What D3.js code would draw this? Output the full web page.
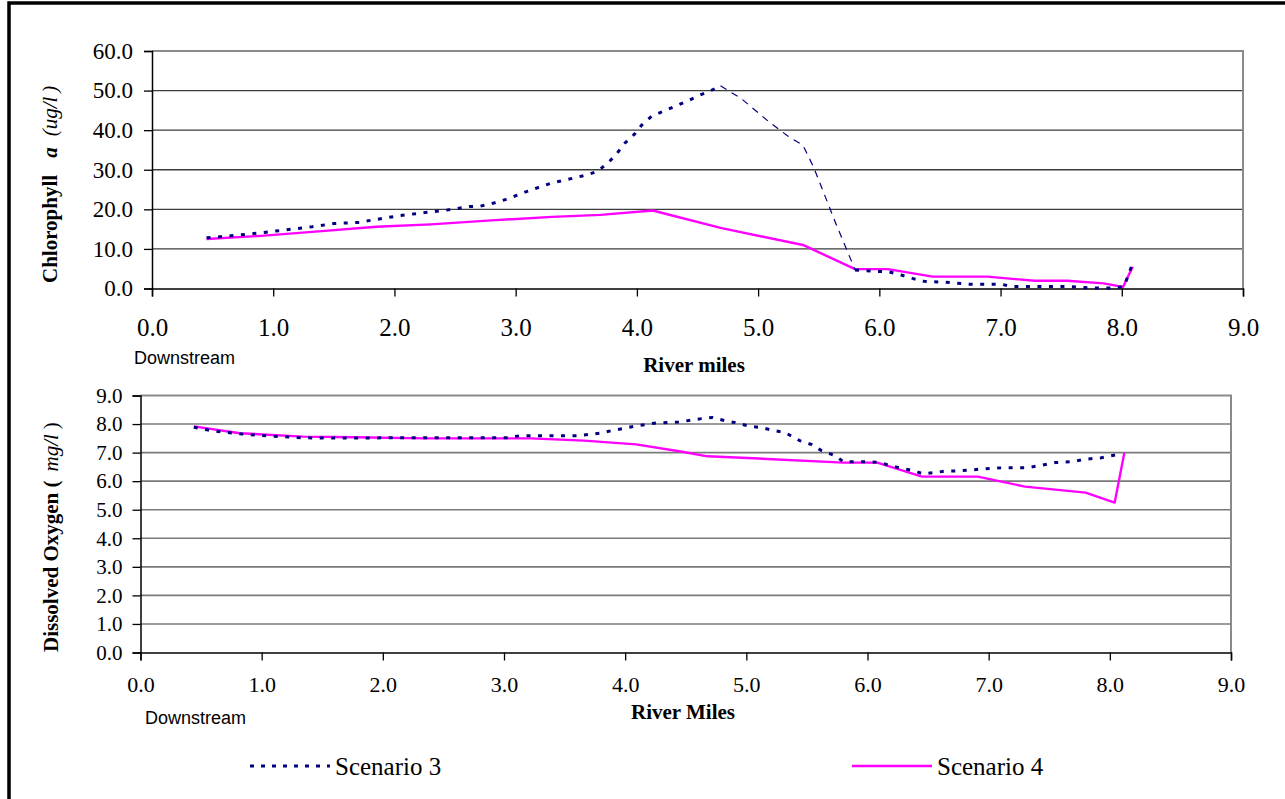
<!DOCTYPE html>
<html>
<head>
<meta charset="utf-8">
<script src="https://cdn.jsdelivr.net/npm/d3@7"></script>
<style>
  body { margin: 0; background: #fff; }
  svg text { font-family: "Liberation Serif", "Times New Roman", serif; fill: #000; }
  .sans { font-family: "Liberation Sans", Arial, sans-serif !important; }
</style>
</head>
<body>
<div id="chart"></div>
<script>
// river miles and values
let chlaMiles3 = [0.45, 0.65, 0.84, 1.02, 1.32, 1.5, 1.71, 1.82, 2.04, 2.23, 2.43, 2.62, 2.71, 2.82, 2.92, 3.1, 3.3, 3.41, 3.6, 3.68, 3.77, 3.83, 3.9, 3.98, 4.04, 4.12, 4.23, 4.32, 4.42, 4.5, 4.61, 4.69, 4.86, 5.09, 5.25, 5.37, 5.46, 5.64, 5.72, 5.8, 6.0, 6.08, 6.18, 6.28, 6.37, 6.54, 6.74, 7.0, 7.1, 7.56, 7.77, 7.94, 8.02, 8.09]
let chlaScen3 = [12.8, 13.3, 13.9, 14.5, 15.6, 16.4, 16.7, 17.3, 18.4, 19.1, 19.8, 20.7, 20.8, 21.6, 22.5, 24.6, 26.7, 27.4, 28.8, 29.7, 32, 33.9, 36.7, 39, 41.3, 43.5, 44.9, 46.1, 47.4, 48.6, 50, 51.2, 48, 42.1, 38.4, 36.2, 30.5, 16.5, 10.6, 4.7, 4.3, 4.2, 3.4, 2.5, 1.8, 1.6, 1.1, 1.1, 0.5, 0.5, 0.1, 0.1, 0.6, 6.4]

let chlaMiles4 = [0.45, 0.9, 1.4, 1.85, 2.3, 2.8, 3.3, 3.7, 4.13, 4.69, 5.37, 5.8, 6.07, 6.44, 6.89, 7.28, 7.55, 7.85, 8.01, 8.09]
let chlaScen4 = [12.5, 13.3, 14.5, 15.6, 16.2, 17.2, 18.1, 18.6, 19.7, 15.3, 11.0, 4.9, 4.9, 3.0, 3.0, 1.95, 1.95, 1.3, 0.4, 5.5]

let doMiles3 = [0.44, 0.56, 0.66, 0.84, 1.04, 1.33, 1.52, 2.24, 3.03, 3.13, 3.61, 3.79, 3.89, 3.99, 4.09, 4.24, 4.44, 4.63, 4.72, 4.82, 4.91, 5.02, 5.12, 5.21, 5.32, 5.44, 5.54, 5.62, 5.74, 5.8, 6.01, 6.1, 6.19, 6.28, 6.39, 6.46, 6.55, 6.66, 6.75, 6.93, 7.12, 7.31, 7.42, 7.55, 7.68, 7.8, 7.93, 8.05]
let doScen3 = [7.89, 7.79, 7.73, 7.65, 7.59, 7.52, 7.51, 7.52, 7.52, 7.59, 7.59, 7.68, 7.77, 7.85, 7.93, 8.03, 8.07, 8.19, 8.23, 8.12, 8.05, 7.93, 7.88, 7.79, 7.7, 7.42, 7.28, 7.07, 6.88, 6.68, 6.68, 6.66, 6.54, 6.45, 6.36, 6.25, 6.3, 6.36, 6.36, 6.42, 6.47, 6.47, 6.54, 6.65, 6.68, 6.77, 6.82, 6.92]

let doMiles4 = [0.44, 0.82, 1.34, 1.77, 2.35, 3.22, 3.66, 4.09, 4.47, 4.68, 4.87, 5.8, 6.08, 6.45, 6.91, 7.3, 7.8, 8.04, 8.12]
let doScen4 = [7.92, 7.68, 7.56, 7.54, 7.5, 7.5, 7.42, 7.29, 7.03, 6.87, 6.84, 6.65, 6.65, 6.16, 6.16, 5.81, 5.6, 5.25, 7.0]

let xTicks = [0, 1, 2, 3, 4, 5, 6, 7, 8, 9]
let chlaTicks = [0, 10, 20, 30, 40, 50, 60]
let doTicks = [0, 1, 2, 3, 4, 5, 6, 7, 8, 9]
let legendNames = ['Scenario 3', 'Scenario 4']

// stretch of scenario 3 (chlorophyll) that is drawn with a thin dash
let chlaThinRange = [4.69, 5.8]

let navy = '#000080', magenta = '#FF00FF'
let fmt = d3.format('.1f')

let svg = d3.select('#chart')
    .append('svg')
    .attr('width', 1285)
    .attr('height', 799)

// outer frame
svg.append('rect')
    .attr('x', 9).attr('y', 3)
    .attr('width', 1400).attr('height', 900)
    .attr('fill', 'none')
    .attr('stroke', '#000')
    .attr('stroke-width', 3.5)

let zip = (xs, ys) => xs.map((x, i) => [x, ys[i]])

let drawPanel = (cfg) => {
    let x = d3.scaleLinear().domain([0, 9]).range([cfg.left, cfg.right])
    let y = d3.scaleLinear().domain([0, cfg.ymax]).range([cfg.bottom, cfg.top])
    let g = svg.append('g')

    // grid lines
    g.selectAll('.grid')
        .data(cfg.yTicks.filter(d => d > 0 && d < cfg.ymax))
        .enter().append('line')
        .attr('x1', cfg.left).attr('x2', cfg.right)
        .attr('y1', d => y(d)).attr('y2', d => y(d))
        .attr('stroke', cfg.gridColor)
        .attr('stroke-width', cfg.gridWidth)

    // top / right frame
    g.append('path')
        .attr('d', `M${cfg.left},${cfg.top}H${cfg.right}V${cfg.bottom}`)
        .attr('fill', 'none')
        .attr('stroke', '#8a8a8a')
        .attr('stroke-width', 2)

    let xAxis = g.append('g')
        .attr('transform', `translate(0,${cfg.bottom})`)
        .call(d3.axisBottom(x).tickValues(xTicks).tickFormat(fmt).tickSizeOuter(0).tickSize(8).tickPadding(cfg.xPad))
    xAxis.select('.domain').attr('stroke', '#000').attr('stroke-width', 1.5)
    xAxis.selectAll('.tick line').attr('stroke', '#000').attr('stroke-width', 1.3)
    xAxis.selectAll('.tick text')
        .style('font-family', '"Liberation Serif", serif')
        .attr('font-size', cfg.xFont)
        .attr('fill', '#000')

    let yAxis = g.append('g')
        .attr('transform', `translate(${cfg.left},0)`)
        .call(d3.axisLeft(y).tickValues(cfg.yTicks).tickFormat(fmt).tickSizeOuter(0).tickSize(8).tickPadding(cfg.yPad))
    yAxis.select('.domain').attr('stroke', '#000').attr('stroke-width', 1.5)
    yAxis.selectAll('.tick line').attr('stroke', '#000').attr('stroke-width', 1.3)
    yAxis.selectAll('.tick text')
        .style('font-family', '"Liberation Serif", serif')
        .attr('font-size', cfg.yFont)
        .attr('fill', '#000')

    let line = d3.line().x(d => x(d[0])).y(d => y(d[1]))

    g.append('path')
        .datum(zip(cfg.miles4, cfg.scen4))
        .attr('d', line)
        .attr('fill', 'none')
        .attr('stroke', magenta)
        .attr('stroke-width', 2.4)
        .attr('stroke-linejoin', 'round')

    let pts3 = zip(cfg.miles3, cfg.scen3)
    let thin = cfg.thin || [99, 99]
    let before = pts3.filter(d => d[0] <= thin[0])
    let middle = pts3.filter(d => d[0] >= thin[0] && d[0] <= thin[1])
    let after = pts3.filter(d => d[0] >= thin[1])

    ;[before, after].forEach(seg => {
        if (seg.length < 2) return
        g.append('path')
            .datum(seg)
            .attr('d', line)
            .attr('fill', 'none')
            .attr('stroke', navy)
            .attr('stroke-width', 3)
            .attr('stroke-dasharray', '4,7.5')
    })
    if (middle.length > 1) {
        g.append('path')
            .datum(middle)
            .attr('d', line)
            .attr('fill', 'none')
            .attr('stroke', navy)
            .attr('stroke-width', 1.2)
            .attr('stroke-dasharray', '7,6')
    }

    return g
}

drawPanel({
    left: 152, right: 1243, top: 51, bottom: 288.5, ymax: 60,
    yTicks: chlaTicks, miles3: chlaMiles3, scen3: chlaScen3, miles4: chlaMiles4, scen4: chlaScen4,
    thin: chlaThinRange,
    gridColor: '#3c3c3c', gridWidth: 1.3, xFont: 25, yFont: 23, xPad: 22, yPad: 11
})

drawPanel({
    left: 140.5, right: 1231, top: 395.5, bottom: 652.5, ymax: 9,
    yTicks: doTicks, miles3: doMiles3, scen3: doScen3, miles4: doMiles4, scen4: doScen4,
    gridColor: '#7a7a7a', gridWidth: 1.6, xFont: 22, yFont: 21, xPad: 16, yPad: 10
})

// axis titles
let chlaTitle = svg.append('text')
    .attr('transform', 'translate(57,283) rotate(-90)')
    .attr('font-size', 21)
chlaTitle.append('tspan').attr('font-weight', 'bold').text('Chlorophyll')
chlaTitle.append('tspan').attr('dx', 17).attr('font-weight', 'bold').attr('font-style', 'italic').text('a')
chlaTitle.append('tspan').attr('dx', 11).attr('font-style', 'italic').text('(ug/l')
chlaTitle.append('tspan').attr('dx', 4).attr('font-style', 'italic').text(')')

let doTitle = svg.append('text')
    .attr('transform', 'translate(58,652) rotate(-90)')
    .attr('font-size', 21)
doTitle.append('tspan').attr('font-weight', 'bold').text('Dissolved Oxygen (')
doTitle.append('tspan').attr('dx', 9).attr('font-style', 'italic').text('mg/l')
doTitle.append('tspan').attr('dx', 5).text(')')

svg.append('text')
    .attr('x', 694).attr('y', 372)
    .attr('text-anchor', 'middle')
    .attr('font-size', 21)
    .attr('font-weight', 'bold')
    .text('River miles')

svg.append('text')
    .attr('x', 683).attr('y', 719)
    .attr('text-anchor', 'middle')
    .attr('font-size', 21)
    .attr('font-weight', 'bold')
    .text('River Miles')

svg.append('text')
    .attr('class', 'sans')
    .attr('x', 134).attr('y', 364)
    .attr('font-size', 18)
    .text('Downstream')

svg.append('text')
    .attr('class', 'sans')
    .attr('x', 145).attr('y', 724)
    .attr('font-size', 18)
    .text('Downstream')

// legend
let legendItems = [
    { name: legendNames[0], color: navy, x: 250, dash: '4,7', width: 3 },
    { name: legendNames[1], color: magenta, x: 852, dash: null, width: 2.4 }
]
let lg = svg.selectAll('.legend')
    .data(legendItems)
    .enter().append('g')
    .attr('transform', d => `translate(${d.x},766)`)
lg.append('line')
    .attr('x1', 0).attr('x2', 80)
    .attr('stroke', d => d.color)
    .attr('stroke-width', d => d.width)
    .attr('stroke-dasharray', d => d.dash)
lg.append('text')
    .attr('x', 85).attr('y', 9)
    .attr('font-size', 25)
    .text(d => d.name)
</script>
</body>
</html>
